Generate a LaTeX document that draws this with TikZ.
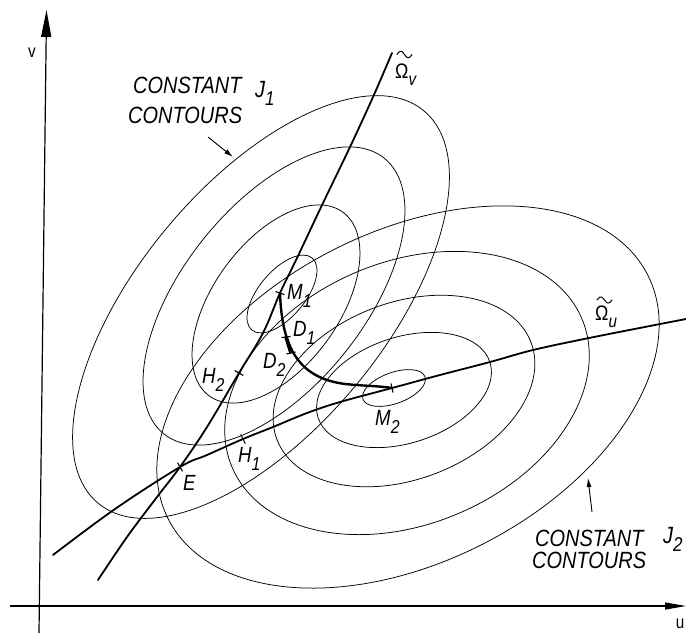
\documentclass[tikz,border=0pt]{standalone}
\usepackage{fontspec}
\newfontfamily\lbl{Liberation Sans}[FakeStretch=0.85]
\usetikzlibrary{arrows.meta}
\newcommand{\lsub}[1]{\raisebox{-0.38em}{\scalebox{0.85}{#1}}}
\begin{document}
\begin{tikzpicture}[x=1pt,y=-1pt,
  contour/.style={line width=0.75pt},
  branch/.style={line width=1.8pt,line cap=round},
  dpath/.style={line width=2.4pt,line cap=round},
  tickmark/.style={line width=1.1pt},
  axis/.style={line width=1.2pt},
  tildemark/.style={line width=1pt,line cap=round},
  caption/.style={font=\lbl\itshape\fontsize{23.5}{26}\selectfont,inner sep=0pt,anchor=base west},
  ptlabel/.style={font=\lbl\itshape\fontsize{22}{24}\selectfont,inner sep=0pt,anchor=base west},
  omlabel/.style={font=\lbl\fontsize{21}{24}\selectfont,inner sep=0pt,anchor=base west},
  axlabel/.style={font=\lbl\fontsize{18}{20}\selectfont,inner sep=0pt},
  pointer/.style={line width=0.9pt,-{Latex[length=9pt,width=5pt]}},
]
\useasboundingbox (0,0) rectangle (686,633);

% axes
\coordinate (O1) at (39,633);
\coordinate (Vtop) at (46.5,10);
\coordinate (H0) at (10,606);
\coordinate (Uend) at (686,606);
\draw[axis,-{Triangle[length=27pt,width=10pt]}] (O1) -- (Vtop);
\draw[axis,-{Triangle[length=21pt,width=7pt]}] (H0) -- (Uend);
\node[axlabel] (vlab) at (32,53) {v};
\node[axlabel] (ulab) at (680,624) {u};

% constant J1 contours
\draw[contour, rotate around={50.3:(261,307)}] (261,307) ellipse [x radius=255pt,y radius=123pt];
\draw[contour, rotate around={51.4:(274,296)}] (274,296) ellipse [x radius=176.5pt,y radius=90.7pt];
\draw[contour, rotate around={54:(276,304)}] (276,304) ellipse [x radius=113.6pt,y radius=62.9pt];
\draw[contour, rotate around={50:(282,294)}] (282,294) ellipse [x radius=47pt,y radius=23pt];

% constant J2 contours
\draw[contour, rotate around={27:(408,397)}] (408,397) ellipse [x radius=269pt,y radius=165pt];
\draw[contour, rotate around={23:(407,393)}] (407,393) ellipse [x radius=190pt,y radius=131pt];
\draw[contour, rotate around={21:(404,391)}] (404,391) ellipse [x radius=136pt,y radius=88.3pt];
\draw[contour, rotate around={18:(404,390)}] (404,390) ellipse [x radius=90.3pt,y radius=53pt];
\draw[contour, rotate around={20:(394,388)}] (394,388) ellipse [x radius=33pt,y radius=15.5pt];

% special points
\coordinate (E) at (180,467);
\coordinate (H1) at (243,439);
\coordinate (H2) at (239,373);
\coordinate (M1) at (280,293);
\coordinate (D1) at (286,337);
\coordinate (D2) at (291,353);
\coordinate (M2) at (392,388);
\coordinate (Vlow) at (98,580);
\coordinate (Vhigh) at (392,53);
\coordinate (Ulow) at (53,555);
\coordinate (Uhigh) at (686,319);

% Omega curves
\draw[branch] plot[smooth, tension=0.6] coordinates {(Vlow) (127,537) (157,497) (E) (207,427) (H2) (263,333) (M1) (297,258) (323,203) (350,147) (373,97) (Vhigh)};
\draw[branch] plot[smooth, tension=0.6] coordinates {(Ulow) (115,509) (E) (207,455) (H1) (273,427) (307,413) (340,402) (M2) (440,375) (490,362) (533,350) (589,338) (655,325) (Uhigh)};

% path M1 -> M2
\draw[dpath] (M1) .. controls (282,350) and (300,378) .. (345,384) .. controls (365,386) and (380,386) .. (M2);
\draw[line width=3.6pt] (D1) -- (D2);

% ticks
\draw[tickmark] (E) ++(-2.5,-4.3) -- ++(5,8.6);
\draw[tickmark] (H1) ++(-2.3,-4.6) -- ++(4.6,9.2);
\draw[tickmark] (H2) ++(-4.3,-2.5) -- ++(8.6,5);
\draw[tickmark] (M1) ++(-4.5,-1.5) -- ++(9,3);
\draw[tickmark] (D1) ++(-4.5,0.5) -- ++(9,-1);
\draw[tickmark] (D2) ++(-4.5,1) -- ++(9,-2);
\draw[tickmark] (M2) ++(-1,-4.5) -- ++(2,9);

% Omega labels with drawn tildes
\node[omlabel] (omv) at (395,78) {Ω\lsub{\itshape v}};
\draw[tildemark] plot[domain=0:1, samples=24] ({397+15*\x},{54.5-3.2*sin(360*\x)});
\node[omlabel] (omu) at (595,320) {Ω\lsub{\itshape u}};
\draw[tildemark] plot[domain=0:1, samples=24] ({597+15*\x},{300-3*sin(360*\x)});

% point labels
\node[ptlabel] (lM1) at (287,299) {M\lsub{1}};
\node[ptlabel] (lD1) at (293,336) {D\lsub{1}};
\node[ptlabel] (lD2) at (263,368) {D\lsub{2}};
\node[ptlabel] (lH2) at (202,383) {H\lsub{2}};
\node[ptlabel] (lH1) at (238,462) {H\lsub{1}};
\node[ptlabel] (lE) at (183,490) {E};
\node[ptlabel] (lM2) at (375,425) {M\lsub{2}};

% captions
\node[caption] (c1a) at (133,93) {CONSTANT};
\node[caption] (c1j) at (255,97) {J\lsub{1}};
\node[caption] (c1b) at (128,123) {CONTOURS};
\node[caption] (c2a) at (535,546) {CONSTANT};
\node[caption] (c2j) at (663,543) {J\lsub{2}};
\node[caption] (c2b) at (532,568) {CONTOURS};

% pointers
\coordinate (p1s) at (208,137);
\coordinate (p1e) at (233,157);
\coordinate (p2s) at (592,512);
\coordinate (p2e) at (588,478);
\draw[pointer] (p1s) -- (p1e);
\draw[pointer] (p2s) -- (p2e);
\end{tikzpicture}
\end{document}
